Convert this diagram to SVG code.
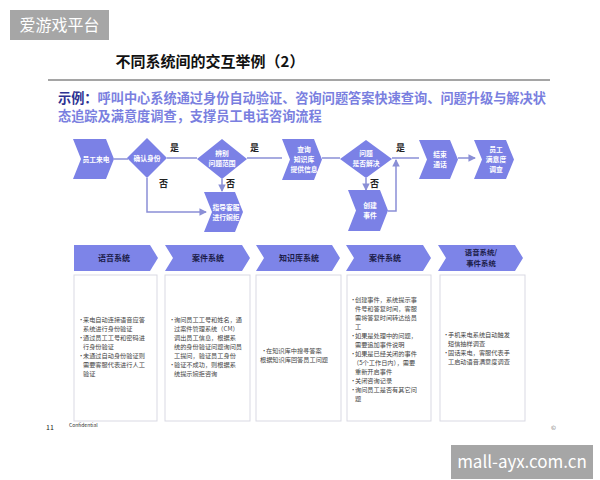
<svg xmlns="http://www.w3.org/2000/svg" width="600" height="480" viewBox="0 0 600 480">
<defs>
<marker id="ah" viewBox="0 0 8 8" refX="7" refY="4" markerWidth="5" markerHeight="5" orient="auto"><path d="M0,0 L8,4 L0,8 Z" fill="#8a8fd6"/></marker>
</defs>
<style>
text{font-family:"Noto Sans CJK SC","Noto Sans",sans-serif}
.shape{fill:#7b81e6}
.hdr{fill:#7d84e8}
.wt{fill:#fff;font-size:6.8px;font-weight:bold;text-anchor:middle}
.ht{fill:#1c1d4a;font-size:8px;font-weight:bold;text-anchor:middle}
.ht2{fill:#1c1d4a;font-size:7.4px;font-weight:bold;text-anchor:middle}
.yn{fill:#222;font-size:9px;font-weight:bold}
.conn{fill:none;stroke:#8a8fd6;stroke-width:1.5}
.box{fill:#fff;stroke:#d9d9e3;stroke-width:1}
.bt{fill:#444;font-size:6.2px}
</style>
<rect width="600" height="480" fill="#fff"/>
<g id="watermark-top"><rect x="10" y="10" width="99" height="30" fill="#a6a6a6"/><text x="59.5" y="31" fill="#fff" font-size="16" text-anchor="middle">爱游戏平台</text></g>
<g id="title"><text x="210" y="67" font-size="15" font-weight="bold" text-anchor="middle" fill="#111">不同系统间的交互举例（2）</text>
<line x1="48" y1="80" x2="550" y2="80" stroke="#a5a5a5" stroke-width="2"/></g>
<g id="subtitle" font-size="13.2" font-weight="bold">
<text x="58" y="103" fill="#7a7fe0"><tspan fill="#2d3192">示例：</tspan>呼叫中心系统通过身份自动验证、咨询问题答案快速查询、问题升级与解决状</text>
<text x="58" y="121" fill="#7a7fe0">态追踪及满意度调查，支撑员工电话咨询流程</text>
</g>
<g id="connectors">
<line class="conn" x1="114" y1="159" x2="128" y2="159"/>
<line class="conn" x1="167" y1="158" x2="197" y2="158"/>
<line class="conn" x1="247" y1="158" x2="282" y2="158"/>
<line class="conn" x1="322" y1="158" x2="340" y2="158"/>
<line class="conn" x1="392" y1="158" x2="419" y2="158"/>
<line class="conn" x1="458" y1="158" x2="475" y2="158" marker-end="url(#ah)"/>
<polyline class="conn" points="147,178 147,212 206,212" marker-end="url(#ah)"/>
<line class="conn" x1="222" y1="179" x2="222" y2="191" marker-end="url(#ah)"/>
<line class="conn" x1="366" y1="178" x2="366" y2="190" marker-end="url(#ah)"/>
<polyline class="conn" points="388,211 396,211 396,160" marker-end="url(#ah)"/>
<text class="yn" x="170" y="151">是</text>
<text class="yn" x="250" y="151">是</text>
<text class="yn" x="396" y="151">是</text>
<text class="yn" x="159" y="187">否</text>
<text class="yn" x="226" y="187">否</text>
<text class="yn" x="370" y="187">否</text>
</g>
<g id="n-call"><path class="shape" d="M73,139 H106 L114,159 L106,179 H73 L81,159 Z"/><text class="wt" x="96" y="161.5">员工来电</text></g>
<g id="n-verify"><path class="shape" d="M147,138 L167,158 L147,178 L127,158 Z"/><text class="wt" x="147" y="160.5">确认身份</text></g>
<g id="n-scope"><path class="shape" d="M222,139 L247,159 L222,179 L197,159 Z"/><text class="wt" x="222" y="156">辨别</text><text class="wt" x="222" y="166">问题范围</text></g>
<g id="n-query"><path class="shape" d="M282,139 H314 L322,159.5 L314,180 H282 L290,159.5 Z"/><text class="wt" x="304" y="152">查询</text><text class="wt" x="304" y="162">知识库</text><text class="wt" x="304" y="172">提供信息</text></g>
<g id="n-refuse"><path class="shape" d="M204,192 H235 L243,212 L235,232 H204 L212,212 Z"/><text class="wt" x="226" y="210">指导客服</text><text class="wt" x="226" y="220">进行婉拒</text></g>
<g id="n-solved"><path class="shape" d="M366,140 L392,159 L366,178 L340,159 Z"/><text class="wt" x="366" y="156">问题</text><text class="wt" x="366" y="166">是否解决</text></g>
<g id="n-event"><path class="shape" d="M348,190 H380 L388,210.5 L380,231 H348 L356,210.5 Z"/><text class="wt" x="370" y="208">创建</text><text class="wt" x="370" y="218">事件</text></g>
<g id="n-end"><path class="shape" d="M419,140 H450 L458,159.5 L450,179 H419 L427,159.5 Z"/><text class="wt" x="440" y="157">结束</text><text class="wt" x="440" y="167">通话</text></g>
<g id="n-survey"><path class="shape" d="M474,140 H506 L514,159.5 L506,179 H474 L482,159.5 Z"/><text class="wt" x="496" y="152">员工</text><text class="wt" x="496" y="162">满意度</text><text class="wt" x="496" y="172">调查</text></g>
<g id="col-voice">
<path class="hdr" d="M74,245 H150 L158,258 L150,271 H74 Z"/><text class="ht" x="114" y="261">语音系统</text>
<rect class="box" x="74" y="275" width="83" height="146"/>
<text class="bt"><tspan x="78" y="322">•</tspan><tspan x="83" y="322">来电自动连接语音应答</tspan><tspan x="83" y="331">系统进行身份验证</tspan><tspan x="78" y="340">•</tspan><tspan x="83" y="340">通过员工工号和密码进</tspan><tspan x="83" y="349">行身份验证</tspan><tspan x="78" y="358">•</tspan><tspan x="83" y="358">未通过自动身份验证则</tspan><tspan x="83" y="367">需要客服代表进行人工</tspan><tspan x="83" y="376">验证</tspan></text>
</g>
<g id="col-case1">
<path class="hdr" d="M165,245 H242 L250,258 L242,271 H165 L173,258 Z"/><text class="ht" x="208" y="261">案件系统</text>
<rect class="box" x="165" y="275" width="85" height="146"/>
<text class="bt"><tspan x="169" y="322">•</tspan><tspan x="174" y="322">询问员工工号和姓名，通</tspan><tspan x="174" y="331">过案件管理系统（CM）</tspan><tspan x="174" y="340">调出员工信息，根据系</tspan><tspan x="174" y="349">统的身份验证问题询问员</tspan><tspan x="174" y="358">工提问，验证员工身份</tspan><tspan x="169" y="367">•</tspan><tspan x="174" y="367">验证不成功，则根据系</tspan><tspan x="174" y="376">统提示婉拒咨询</tspan></text>
</g>
<g id="col-kb">
<path class="hdr" d="M256,245 H332 L340,258 L332,271 H256 L264,258 Z"/><text class="ht" x="299" y="261">知识库系统</text>
<rect class="box" x="256" y="275" width="85" height="146"/>
<text class="bt"><tspan x="261" y="353">•</tspan><tspan x="266" y="353">在知识库中搜寻答案</tspan><tspan x="260" y="362">根据知识库回答员工问题</tspan></text>
</g>
<g id="col-case2">
<path class="hdr" d="M346,245 H423 L431,258 L423,271 H346 L354,258 Z"/><text class="ht" x="385" y="261">案件系统</text>
<rect class="box" x="347" y="275" width="84" height="146"/>
<text class="bt"><tspan x="350" y="302">•</tspan><tspan x="355" y="302">创建事件，系统提示事</tspan><tspan x="355" y="311">件号和答复时间，客服</tspan><tspan x="355" y="320">需将答复时间转达给员</tspan><tspan x="355" y="329">工</tspan><tspan x="350" y="338">•</tspan><tspan x="355" y="338">如果是处理中的问题，</tspan><tspan x="355" y="347">需要追加事件说明</tspan><tspan x="350" y="356">•</tspan><tspan x="355" y="356">如果是已经关闭的事件</tspan><tspan x="353" y="365">（5个工作日内），需要</tspan><tspan x="355" y="374">重新开启事件</tspan><tspan x="350" y="383">•</tspan><tspan x="355" y="383">关闭咨询记录</tspan><tspan x="350" y="392">•</tspan><tspan x="355" y="392">询问员工是否有其它问</tspan><tspan x="355" y="401">题</tspan></text>
</g>
<g id="col-voice-event">
<path class="hdr" d="M438,245 H515 L523,258 L515,271 H438 L446,258 Z"/><text class="ht2" x="481" y="255">语音系统/</text><text class="ht2" x="481" y="265.8">事件系统</text>
<rect class="box" x="440" y="275" width="85" height="146"/>
<text class="bt"><tspan x="443" y="337">•</tspan><tspan x="448" y="337">手机来电系统自动触发</tspan><tspan x="448" y="346">短信抽样调查</tspan><tspan x="443" y="355">•</tspan><tspan x="448" y="355">固话来电，客服代表手</tspan><tspan x="448" y="364">工启动语音满意度调查</tspan></text>
</g>
<g id="footer">
<text x="46" y="430" font-size="7" fill="#222">11</text>
<text x="69" y="427" font-size="5" fill="#333">Confidential</text>
<text x="551" y="430" font-size="6" fill="#666">©</text>
</g>
<g id="watermark-bottom"><rect x="451" y="445" width="142" height="34" fill="#a6a6a6"/><text x="522" y="468" fill="#fff" font-size="17" font-family="Liberation Sans, Arial, sans-serif" text-anchor="middle">mall-ayx.com.cn</text></g>
</svg>
